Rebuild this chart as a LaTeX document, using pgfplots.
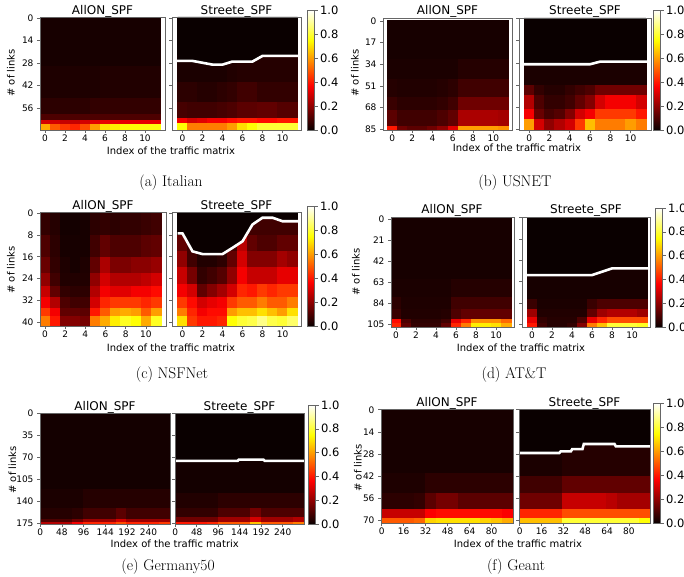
\documentclass[border=0pt]{standalone}
\usepackage{fontspec}
\usepackage{pgfplots}
\pgfplotsset{compat=1.18}
\newfontfamily\dv{DejaVu Sans}
\definecolor{hot0}{RGB}{10,0,0}
\newcommand{\tfont}{\dv\fontsize{12}{12}\selectfont}
\newcommand{\lfont}{\dv\fontsize{10}{12}\selectfont}
\newcommand{\cfont}{\fontsize{15.5}{18}\selectfont}
\pgfplotsset{
  /pgf/number format/assume math mode=true,
  colormap={mhot}{rgb255(0pt)=(10,0,0) rgb255(365pt)=(255,0,0) rgb255(746pt)=(255,255,0) rgb255(1000pt)=(255,255,255)},
  hm/.style={scale only axis, anchor=north west, y dir=reverse, axis on top,
    axis line style={black!60, line width=0.7pt},
    tick style={black!60, line width=0.6pt},
    major tick length=3pt, tick align=outside,
    xtick pos=left, ytick pos=left,
    colormap name=mhot, point meta min=0, point meta max=1,
    tick label style={font=\dv\fontsize{9}{10}\selectfont},
    xticklabel style={yshift=2pt}},
  hmap/.style={surf, shader=flat corner, mesh/cols=13, point meta=explicit},
  wline/.style={white, line width=2.6pt},
  bfill/.style={fill=hot0, draw=none},
  cb/.style n args={3}{colorbar right, colorbar style={at={(parent axis.north east)}, anchor=north west,
    xshift=#1, yshift=#2, width=7pt, height=#3, scale only axis,
    axis line style={black!60, line width=0.7pt}, tick style={black!60, line width=0.6pt},
    major tick length=3pt, tick align=outside, ytick pos=right, yticklabel pos=right,
    ytick={0,0.2,0.4,0.6,0.8,1.0},
    yticklabel style={font=\dv\fontsize{11.5}{12}\selectfont, xshift=-1pt, /pgf/number format/.cd, fixed, fixed zerofill, precision=1}}},
}
\begin{document}
\begin{tikzpicture}
\path[use as bounding box] (0,0) rectangle (684pt,-577pt);
% ================= (a) Italian =================
\begin{axis}[hm, at={(40pt,-17pt)}, width=125pt, height=113pt, xmin=-0.5, xmax=12, ymin=-0.5, ymax=69.5, xtick={0,2,...,10}, ytick={0,14,...,56}]
\addplot[hmap] coordinates {
(-0.5,-0.5)[.02] (0.5,-0.5)[.02] (1.5,-0.5)[.02] (2.5,-0.5)[.02] (3.5,-0.5)[.02] (4.5,-0.5)[.02] (5.5,-0.5)[.02] (6.5,-0.5)[.02] (7.5,-0.5)[.02] (8.5,-0.5)[.02] (9.5,-0.5)[.02] (10.5,-0.5)[.02] (11.5,-0.5)[0]
(-0.5,30)[.03] (0.5,30)[.03] (1.5,30)[.03] (2.5,30)[.03] (3.5,30)[.03] (4.5,30)[.03] (5.5,30)[.035] (6.5,30)[.035] (7.5,30)[.035] (8.5,30)[.035] (9.5,30)[.035] (10.5,30)[.035] (11.5,30)[0]
(-0.5,50)[.05] (0.5,50)[.05] (1.5,50)[.05] (2.5,50)[.05] (3.5,50)[.05] (4.5,50)[.06] (5.5,50)[.06] (6.5,50)[.06] (7.5,50)[.06] (8.5,50)[.06] (9.5,50)[.06] (10.5,50)[.06] (11.5,50)[0]
(-0.5,60)[.1] (0.5,60)[.1] (1.5,60)[.1] (2.5,60)[.1] (3.5,60)[.1] (4.5,60)[.1] (5.5,60)[.1] (6.5,60)[.1] (7.5,60)[.1] (8.5,60)[.1] (9.5,60)[.1] (10.5,60)[.1] (11.5,60)[0]
(-0.5,63.3)[.3] (0.5,63.3)[.3] (1.5,63.3)[.28] (2.5,63.3)[.28] (3.5,63.3)[.3] (4.5,63.3)[.32] (5.5,63.3)[.33] (6.5,63.3)[.33] (7.5,63.3)[.33] (8.5,63.3)[.33] (9.5,63.3)[.33] (10.5,63.3)[.33] (11.5,63.3)[0]
(-0.5,66)[.62] (0.5,66)[.5] (1.5,66)[.45] (2.5,66)[.42] (3.5,66)[.48] (4.5,66)[.6] (5.5,66)[.7] (6.5,66)[.72] (7.5,66)[.75] (8.5,66)[.75] (9.5,66)[.76] (10.5,66)[.76] (11.5,66)[0]
(-0.5,69.5)[0] (0.5,69.5)[0] (1.5,69.5)[0] (2.5,69.5)[0] (3.5,69.5)[0] (4.5,69.5)[0] (5.5,69.5)[0] (6.5,69.5)[0] (7.5,69.5)[0] (8.5,69.5)[0] (9.5,69.5)[0] (10.5,69.5)[0] (11.5,69.5)[0]
};
\end{axis}
\begin{axis}[hm, at={(172pt,-17pt)}, width=129pt, height=113pt, xmin=-1.05, xmax=11.85, ymin=-0.5, ymax=69.5, xtick={0,2,...,10}, ytick={0,14,...,56}, yticklabels={}, cb={-2pt}{7pt}{120pt}]
\addplot[hmap] coordinates {
(-0.5,-0.5)[0] (0.5,-0.5)[0] (1.5,-0.5)[0] (2.5,-0.5)[0] (3.5,-0.5)[0] (4.5,-0.5)[0] (5.5,-0.5)[0] (6.5,-0.5)[0] (7.5,-0.5)[0] (8.5,-0.5)[0] (9.5,-0.5)[0] (10.5,-0.5)[0] (11.5,-0.5)[0]
(-0.5,23)[.025] (0.5,23)[.025] (1.5,23)[.025] (2.5,23)[.025] (3.5,23)[.025] (4.5,23)[.035] (5.5,23)[.04] (6.5,23)[.04] (7.5,23)[.04] (8.5,23)[.04] (9.5,23)[.04] (10.5,23)[.04] (11.5,23)[0]
(-0.5,40)[.05] (0.5,40)[.05] (1.5,40)[.04] (2.5,40)[.04] (3.5,40)[.05] (4.5,40)[.06] (5.5,40)[.08] (6.5,40)[.08] (7.5,40)[.06] (8.5,40)[.06] (9.5,40)[.06] (10.5,40)[.06] (11.5,40)[0]
(-0.5,52)[.09] (0.5,52)[.08] (1.5,52)[.08] (2.5,52)[.08] (3.5,52)[.09] (4.5,52)[.1] (5.5,52)[.12] (6.5,52)[.12] (7.5,52)[.13] (8.5,52)[.13] (9.5,52)[.11] (10.5,52)[.11] (11.5,52)[0]
(-0.5,62)[.35] (0.5,62)[.3] (1.5,62)[.32] (2.5,62)[.35] (3.5,62)[.35] (4.5,62)[.38] (5.5,62)[.4] (6.5,62)[.4] (7.5,62)[.38] (8.5,62)[.38] (9.5,62)[.4] (10.5,62)[.4] (11.5,62)[0]
(-0.5,65.5)[.75] (0.5,65.5)[.55] (1.5,65.5)[.55] (2.5,65.5)[.55] (3.5,65.5)[.55] (4.5,65.5)[.6] (5.5,65.5)[.7] (6.5,65.5)[.75] (7.5,65.5)[.8] (8.5,65.5)[.8] (9.5,65.5)[.8] (10.5,65.5)[.8] (11.5,65.5)[0]
(-0.5,69.5)[0] (0.5,69.5)[0] (1.5,69.5)[0] (2.5,69.5)[0] (3.5,69.5)[0] (4.5,69.5)[0] (5.5,69.5)[0] (6.5,69.5)[0] (7.5,69.5)[0] (8.5,69.5)[0] (9.5,69.5)[0] (10.5,69.5)[0] (11.5,69.5)[0]
};
\addplot[bfill] coordinates {(-0.5,-0.5) (-0.5,26.7) (1,26.7) (3,29) (4,29) (5,27.1) (7,27.1) (8,23.6) (11.5,23.6) (11.5,-0.5)};
\addplot[wline] coordinates {(-1.05,26.7) (1,26.7) (3,29) (4,29) (5,27.1) (7,27.1) (8,23.6) (11.85,23.6)};
\end{axis}
% ================= (b) USNET =================
\begin{axis}[hm, at={(383pt,-18pt)}, width=129pt, height=112pt, xmin=-0.9, xmax=11.85, ymin=-2.3, ymax=85.5, xtick={0,2,...,10}, ytick={0,17,...,85}]
\addplot[hmap] coordinates {
(-0.5,-0.5)[.02] (0.5,-0.5)[.02] (1.5,-0.5)[.02] (2.5,-0.5)[.02] (3.5,-0.5)[.02] (4.5,-0.5)[.02] (5.5,-0.5)[.02] (6.5,-0.5)[.02] (7.5,-0.5)[.02] (8.5,-0.5)[.02] (9.5,-0.5)[.02] (10.5,-0.5)[.02] (11.5,-0.5)[0]
(-0.5,30)[.025] (0.5,30)[.025] (1.5,30)[.025] (2.5,30)[.025] (3.5,30)[.025] (4.5,30)[.025] (5.5,30)[.025] (6.5,30)[.04] (7.5,30)[.04] (8.5,30)[.04] (9.5,30)[.04] (10.5,30)[.04] (11.5,30)[0]
(-0.5,46)[.04] (0.5,46)[.035] (1.5,46)[.035] (2.5,46)[.035] (3.5,46)[.035] (4.5,46)[.04] (5.5,46)[.05] (6.5,46)[.08] (7.5,46)[.08] (8.5,46)[.08] (9.5,46)[.08] (10.5,46)[.08] (11.5,46)[0]
(-0.5,60)[.07] (0.5,60)[.05] (1.5,60)[.05] (2.5,60)[.05] (3.5,60)[.05] (4.5,60)[.06] (5.5,60)[.08] (6.5,60)[.15] (7.5,60)[.15] (8.5,60)[.15] (9.5,60)[.15] (10.5,60)[.15] (11.5,60)[0]
(-0.5,70)[.12] (0.5,70)[.08] (1.5,70)[.08] (2.5,70)[.08] (3.5,70)[.08] (4.5,70)[.1] (5.5,70)[.13] (6.5,70)[.24] (7.5,70)[.24] (8.5,70)[.24] (9.5,70)[.24] (10.5,70)[.23] (11.5,70)[0]
(-0.5,82.5)[.4] (0.5,82.5)[.15] (1.5,82.5)[.12] (2.5,82.5)[.12] (3.5,82.5)[.15] (4.5,82.5)[.2] (5.5,82.5)[.32] (6.5,82.5)[.6] (7.5,82.5)[.6] (8.5,82.5)[.6] (9.5,82.5)[.6] (10.5,82.5)[.58] (11.5,82.5)[0]
(-0.5,85.5)[0] (0.5,85.5)[0] (1.5,85.5)[0] (2.5,85.5)[0] (3.5,85.5)[0] (4.5,85.5)[0] (5.5,85.5)[0] (6.5,85.5)[0] (7.5,85.5)[0] (8.5,85.5)[0] (9.5,85.5)[0] (10.5,85.5)[0] (11.5,85.5)[0]
};
\end{axis}
\begin{axis}[hm, at={(519pt,-18pt)}, width=132pt, height=112pt, xmin=-1, xmax=12, ymin=-0.5, ymax=85.5, xtick={0,2,...,10}, ytick={0,17,...,85}, yticklabels={}, cb={-6pt}{8pt}{120pt}]
\addplot[hmap] coordinates {
(-0.5,-0.5)[0] (0.5,-0.5)[0] (1.5,-0.5)[0] (2.5,-0.5)[0] (3.5,-0.5)[0] (4.5,-0.5)[0] (5.5,-0.5)[0] (6.5,-0.5)[0] (7.5,-0.5)[0] (8.5,-0.5)[0] (9.5,-0.5)[0] (10.5,-0.5)[0] (11.5,-0.5)[0]
(-0.5,33)[.025] (0.5,33)[.025] (1.5,33)[.025] (2.5,33)[.025] (3.5,33)[.025] (4.5,33)[.025] (5.5,33)[.025] (6.5,33)[.025] (7.5,33)[.025] (8.5,33)[.025] (9.5,33)[.025] (10.5,33)[.025] (11.5,33)[0]
(-0.5,50.8)[.12] (0.5,50.8)[.06] (1.5,50.8)[.04] (2.5,50.8)[.04] (3.5,50.8)[.06] (4.5,50.8)[.08] (5.5,50.8)[.1] (6.5,50.8)[.15] (7.5,50.8)[.15] (8.5,50.8)[.15] (9.5,50.8)[.15] (10.5,50.8)[.15] (11.5,50.8)[0]
(-0.5,58.7)[.25] (0.5,58.7)[.1] (1.5,58.7)[.06] (2.5,58.7)[.06] (3.5,58.7)[.08] (4.5,58.7)[.13] (5.5,58.7)[.18] (6.5,58.7)[.3] (7.5,58.7)[.35] (8.5,58.7)[.35] (9.5,58.7)[.35] (10.5,58.7)[.3] (11.5,58.7)[0]
(-0.5,69.3)[.35] (0.5,69.3)[.14] (1.5,69.3)[.09] (2.5,69.3)[.11] (3.5,69.3)[.18] (4.5,69.3)[.3] (5.5,69.3)[.35] (6.5,69.3)[.45] (7.5,69.3)[.45] (8.5,69.3)[.45] (9.5,69.3)[.45] (10.5,69.3)[.4] (11.5,69.3)[0]
(-0.5,77.2)[.6] (0.5,77.2)[.3] (1.5,77.2)[.2] (2.5,77.2)[.25] (3.5,77.2)[.3] (4.5,77.2)[.45] (5.5,77.2)[.65] (6.5,77.2)[.55] (7.5,77.2)[.55] (8.5,77.2)[.55] (9.5,77.2)[.6] (10.5,77.2)[.55] (11.5,77.2)[0]
(-0.5,85.5)[0] (0.5,85.5)[0] (1.5,85.5)[0] (2.5,85.5)[0] (3.5,85.5)[0] (4.5,85.5)[0] (5.5,85.5)[0] (6.5,85.5)[0] (7.5,85.5)[0] (8.5,85.5)[0] (9.5,85.5)[0] (10.5,85.5)[0] (11.5,85.5)[0]
};
\addplot[bfill] coordinates {(-0.5,-0.5) (-0.5,35) (6,35) (7,33) (11.5,33) (11.5,-0.5)};
\addplot[wline] coordinates {(-1,35) (6,35) (7,33) (12,33)};
\end{axis}
% ================= (c) NSFNet =================
\begin{axis}[hm, at={(40pt,-212pt)}, width=126pt, height=114pt, xmin=-0.5, xmax=12, ymin=-0.5, ymax=41.5, xtick={0,2,...,10}, ytick={0,8,...,40}]
\addplot[hmap] coordinates {
(-0.5,-0.5)[.06] (0.5,-0.5)[.04] (1.5,-0.5)[.015] (2.5,-0.5)[.015] (3.5,-0.5)[.02] (4.5,-0.5)[.05] (5.5,-0.5)[.06] (6.5,-0.5)[.05] (7.5,-0.5)[.06] (8.5,-0.5)[.06] (9.5,-0.5)[.07] (10.5,-0.5)[.08] (11.5,-0.5)[0]
(-0.5,8)[.1] (0.5,8)[.05] (1.5,8)[.02] (2.5,8)[.02] (3.5,8)[.02] (4.5,8)[.08] (5.5,8)[.13] (6.5,8)[.1] (7.5,8)[.1] (8.5,8)[.1] (9.5,8)[.12] (10.5,8)[.13] (11.5,8)[0]
(-0.5,16)[.14] (0.5,16)[.06] (1.5,16)[.03] (2.5,16)[.02] (3.5,16)[.03] (4.5,16)[.13] (5.5,16)[.24] (6.5,16)[.17] (7.5,16)[.17] (8.5,16)[.19] (9.5,16)[.19] (10.5,16)[.21] (11.5,16)[0]
(-0.5,22)[.2] (0.5,22)[.08] (1.5,22)[.035] (2.5,22)[.035] (3.5,22)[.035] (4.5,22)[.2] (5.5,22)[.3] (6.5,22)[.25] (7.5,22)[.25] (8.5,22)[.25] (9.5,22)[.27] (10.5,22)[.3] (11.5,22)[0]
(-0.5,27)[.28] (0.5,27)[.13] (1.5,27)[.06] (2.5,27)[.05] (3.5,27)[.05] (4.5,27)[.25] (5.5,27)[.35] (6.5,27)[.32] (7.5,27)[.32] (8.5,27)[.35] (9.5,27)[.35] (10.5,27)[.38] (11.5,27)[0]
(-0.5,31)[.35] (0.5,31)[.25] (1.5,31)[.1] (2.5,31)[.08] (3.5,31)[.08] (4.5,31)[.3] (5.5,31)[.42] (6.5,31)[.45] (7.5,31)[.45] (8.5,31)[.45] (9.5,31)[.42] (10.5,31)[.45] (11.5,31)[0]
(-0.5,35)[.45] (0.5,35)[.35] (1.5,35)[.13] (2.5,35)[.13] (3.5,35)[.12] (4.5,35)[.4] (5.5,35)[.5] (6.5,35)[.6] (7.5,35)[.62] (8.5,35)[.6] (9.5,35)[.5] (10.5,35)[.6] (11.5,35)[0]
(-0.5,38)[.55] (0.5,38)[.4] (1.5,38)[.18] (2.5,38)[.18] (3.5,38)[.16] (4.5,38)[.55] (5.5,38)[.62] (6.5,38)[.72] (7.5,38)[.78] (8.5,38)[.75] (9.5,38)[.62] (10.5,38)[.78] (11.5,38)[0]
(-0.5,41.5)[0] (0.5,41.5)[0] (1.5,41.5)[0] (2.5,41.5)[0] (3.5,41.5)[0] (4.5,41.5)[0] (5.5,41.5)[0] (6.5,41.5)[0] (7.5,41.5)[0] (8.5,41.5)[0] (9.5,41.5)[0] (10.5,41.5)[0] (11.5,41.5)[0]
};
\end{axis}
\begin{axis}[hm, at={(172pt,-212pt)}, width=129pt, height=114pt, xmin=-1.05, xmax=11.85, ymin=-0.5, ymax=41.5, xtick={0,2,...,10}, ytick={0,8,...,40}, yticklabels={}, cb={-2pt}{6pt}{120pt}]
\addplot[hmap] coordinates {
(-0.5,-0.5)[0] (0.5,-0.5)[0] (1.5,-0.5)[0] (2.5,-0.5)[0] (3.5,-0.5)[0] (4.5,-0.5)[0] (5.5,-0.5)[0] (6.5,-0.5)[0] (7.5,-0.5)[0] (8.5,-0.5)[0] (9.5,-0.5)[0] (10.5,-0.5)[0] (11.5,-0.5)[0]
(-0.5,2)[0] (0.5,2)[0] (1.5,2)[0] (2.5,2)[0] (3.5,2)[0] (4.5,2)[0] (5.5,2)[0] (6.5,2)[.08] (7.5,2)[.08] (8.5,2)[.08] (9.5,2)[.08] (10.5,2)[.08] (11.5,2)[0]
(-0.5,8)[.13] (0.5,8)[.08] (1.5,8)[0] (2.5,8)[0] (3.5,8)[0] (4.5,8)[.08] (5.5,8)[.26] (6.5,8)[.13] (7.5,8)[.1] (8.5,8)[.1] (9.5,8)[.13] (10.5,8)[.13] (11.5,8)[0]
(-0.5,14)[.2] (0.5,14)[.08] (1.5,14)[.035] (2.5,14)[.035] (3.5,14)[.05] (4.5,14)[.13] (5.5,14)[.3] (6.5,14)[.18] (7.5,14)[.18] (8.5,14)[.18] (9.5,14)[.23] (10.5,14)[.2] (11.5,14)[0]
(-0.5,20)[.28] (0.5,20)[.16] (1.5,20)[.06] (2.5,20)[.08] (3.5,20)[.11] (4.5,20)[.2] (5.5,20)[.35] (6.5,20)[.28] (7.5,20)[.28] (8.5,20)[.28] (9.5,20)[.33] (10.5,20)[.33] (11.5,20)[0]
(-0.5,26)[.35] (0.5,26)[.3] (1.5,26)[.13] (2.5,26)[.18] (3.5,26)[.23] (4.5,26)[.3] (5.5,26)[.42] (6.5,26)[.4] (7.5,26)[.45] (8.5,26)[.42] (9.5,26)[.45] (10.5,26)[.45] (11.5,26)[0]
(-0.5,31)[.45] (0.5,31)[.38] (1.5,31)[.3] (2.5,31)[.33] (3.5,31)[.35] (4.5,31)[.45] (5.5,31)[.5] (6.5,31)[.5] (7.5,31)[.55] (8.5,31)[.5] (9.5,31)[.5] (10.5,31)[.55] (11.5,31)[0]
(-0.5,35)[.55] (0.5,35)[.42] (1.5,35)[.35] (2.5,35)[.38] (3.5,35)[.38] (4.5,35)[.6] (5.5,35)[.65] (6.5,35)[.65] (7.5,35)[.7] (8.5,35)[.65] (9.5,35)[.6] (10.5,35)[.7] (11.5,35)[0]
(-0.5,38)[.7] (0.5,38)[.45] (1.5,38)[.4] (2.5,38)[.4] (3.5,38)[.42] (4.5,38)[.75] (5.5,38)[.8] (6.5,38)[.82] (7.5,38)[.88] (8.5,38)[.82] (9.5,38)[.8] (10.5,38)[.85] (11.5,38)[0]
(-0.5,41.5)[0] (0.5,41.5)[0] (1.5,41.5)[0] (2.5,41.5)[0] (3.5,41.5)[0] (4.5,41.5)[0] (5.5,41.5)[0] (6.5,41.5)[0] (7.5,41.5)[0] (8.5,41.5)[0] (9.5,41.5)[0] (10.5,41.5)[0] (11.5,41.5)[0]
};
\addplot[bfill] coordinates {(-0.5,-0.5) (-0.5,7.4) (0,7.4) (1,14) (2,15) (4,15) (5,12.7) (6,10.3) (7,4.1) (8,1.6) (9,1.6) (10,2.9) (11.5,2.9) (11.5,-0.5)};
\addplot[wline] coordinates {(-0.5,7.4) (0,7.4) (1,14) (2,15) (4,15) (5,12.7) (6,10.3) (7,4.1) (8,1.6) (9,1.6) (10,2.9) (11.85,2.9)};
\end{axis}
% ================= (d) AT&T =================
\begin{axis}[hm, at={(391pt,-217pt)}, width=123pt, height=110pt, xmin=-0.5, xmax=11.8, ymin=-2, ymax=107.5, xtick={0,2,...,10}, ytick={0,21,...,105}]
\addplot[hmap] coordinates {
(-0.5,-0.5)[.02] (0.5,-0.5)[.02] (1.5,-0.5)[.02] (2.5,-0.5)[.02] (3.5,-0.5)[.02] (4.5,-0.5)[.02] (5.5,-0.5)[.02] (6.5,-0.5)[.02] (7.5,-0.5)[.02] (8.5,-0.5)[.02] (9.5,-0.5)[.02] (10.5,-0.5)[.02] (11.5,-0.5)[0]
(-0.5,60)[.025] (0.5,60)[.025] (1.5,60)[.025] (2.5,60)[.025] (3.5,60)[.025] (4.5,60)[.025] (5.5,60)[.04] (6.5,60)[.04] (7.5,60)[.04] (8.5,60)[.04] (9.5,60)[.04] (10.5,60)[.04] (11.5,60)[0]
(-0.5,78)[.05] (0.5,78)[.03] (1.5,78)[.03] (2.5,78)[.03] (3.5,78)[.03] (4.5,78)[.03] (5.5,78)[.08] (6.5,78)[.08] (7.5,78)[.08] (8.5,78)[.08] (9.5,78)[.08] (10.5,78)[.08] (11.5,78)[0]
(-0.5,90)[.07] (0.5,90)[.035] (1.5,90)[.035] (2.5,90)[.035] (3.5,90)[.035] (4.5,90)[.04] (5.5,90)[.1] (6.5,90)[.13] (7.5,90)[.13] (8.5,90)[.13] (9.5,90)[.13] (10.5,90)[.13] (11.5,90)[0]
(-0.5,99.4)[.38] (0.5,99.4)[.1] (1.5,99.4)[.05] (2.5,99.4)[.05] (3.5,99.4)[.05] (4.5,99.4)[.08] (5.5,99.4)[.33] (6.5,99.4)[.42] (7.5,99.4)[.58] (8.5,99.4)[.58] (9.5,99.4)[.58] (10.5,99.4)[.52] (11.5,99.4)[0]
(-0.5,103.5)[.42] (0.5,103.5)[.13] (1.5,103.5)[.06] (2.5,103.5)[.06] (3.5,103.5)[.06] (4.5,103.5)[.13] (5.5,103.5)[.42] (6.5,103.5)[.55] (7.5,103.5)[.72] (8.5,103.5)[.72] (9.5,103.5)[.7] (10.5,103.5)[.62] (11.5,103.5)[0]
(-0.5,107.5)[0] (0.5,107.5)[0] (1.5,107.5)[0] (2.5,107.5)[0] (3.5,107.5)[0] (4.5,107.5)[0] (5.5,107.5)[0] (6.5,107.5)[0] (7.5,107.5)[0] (8.5,107.5)[0] (9.5,107.5)[0] (10.5,107.5)[0] (11.5,107.5)[0]
};
\end{axis}
\begin{axis}[hm, at={(522pt,-217pt)}, width=128pt, height=110pt, xmin=-1, xmax=11.8, ymin=-0.5, ymax=107.5, xtick={0,2,...,10}, ytick={0,21,...,105}, yticklabels={}, cb={-3pt}{9pt}{119pt}]
\addplot[hmap] coordinates {
(-0.5,-0.5)[0] (0.5,-0.5)[0] (1.5,-0.5)[0] (2.5,-0.5)[0] (3.5,-0.5)[0] (4.5,-0.5)[0] (5.5,-0.5)[0] (6.5,-0.5)[0] (7.5,-0.5)[0] (8.5,-0.5)[0] (9.5,-0.5)[0] (10.5,-0.5)[0] (11.5,-0.5)[0]
(-0.5,50)[.02] (0.5,50)[.02] (1.5,50)[.02] (2.5,50)[.02] (3.5,50)[.02] (4.5,50)[.02] (5.5,50)[.02] (6.5,50)[.02] (7.5,50)[.02] (8.5,50)[.02] (9.5,50)[.02] (10.5,50)[.02] (11.5,50)[0]
(-0.5,80)[.07] (0.5,80)[.025] (1.5,80)[.025] (2.5,80)[.025] (3.5,80)[.025] (4.5,80)[.025] (5.5,80)[.07] (6.5,80)[.1] (7.5,80)[.1] (8.5,80)[.1] (9.5,80)[.1] (10.5,80)[.1] (11.5,80)[0]
(-0.5,90)[.22] (0.5,90)[.035] (1.5,90)[.035] (2.5,90)[.035] (3.5,90)[.035] (4.5,90)[.035] (5.5,90)[.13] (6.5,90)[.22] (7.5,90)[.25] (8.5,90)[.25] (9.5,90)[.25] (10.5,90)[.22] (11.5,90)[0]
(-0.5,98)[.33] (0.5,98)[.06] (1.5,98)[.04] (2.5,98)[.04] (3.5,98)[.04] (4.5,98)[.1] (5.5,98)[.33] (6.5,98)[.42] (7.5,98)[.48] (8.5,98)[.48] (9.5,98)[.48] (10.5,98)[.48] (11.5,98)[0]
(-0.5,104)[.4] (0.5,104)[.08] (1.5,104)[.04] (2.5,104)[.04] (3.5,104)[.06] (4.5,104)[.18] (5.5,104)[.55] (6.5,104)[.65] (7.5,104)[.8] (8.5,104)[.8] (9.5,104)[.8] (10.5,104)[.78] (11.5,104)[0]
(-0.5,107.5)[0] (0.5,107.5)[0] (1.5,107.5)[0] (2.5,107.5)[0] (3.5,107.5)[0] (4.5,107.5)[0] (5.5,107.5)[0] (6.5,107.5)[0] (7.5,107.5)[0] (8.5,107.5)[0] (9.5,107.5)[0] (10.5,107.5)[0] (11.5,107.5)[0]
};
\addplot[bfill] coordinates {(-0.5,-0.5) (-0.5,56.5) (6,56.5) (8,50) (11.5,50) (11.5,-0.5)};
\addplot[wline] coordinates {(-1,56.5) (6,56.5) (8,50) (11.8,50)};
\end{axis}
% ================= (e) Germany50 =================
\begin{axis}[hm, at={(40pt,-413pt)}, width=130pt, height=111pt, xmin=-0.5, xmax=287.5, ymin=-0.5, ymax=175.5, xtick={0,48,...,240}, ytick={0,35,...,175}]
\addplot[hmap] coordinates {
(-0.5,-0.5)[.015] (23.5,-0.5)[.015] (47.5,-0.5)[.015] (71.5,-0.5)[.015] (95.5,-0.5)[.015] (119.5,-0.5)[.015] (143.5,-0.5)[.015] (167.5,-0.5)[.015] (191.5,-0.5)[.015] (215.5,-0.5)[.015] (239.5,-0.5)[.015] (263.5,-0.5)[.015] (287.5,-0.5)[0]
(-0.5,120)[.025] (23.5,120)[.025] (47.5,120)[.025] (71.5,120)[.025] (95.5,120)[.04] (119.5,120)[.04] (143.5,120)[.04] (167.5,120)[.04] (191.5,120)[.04] (215.5,120)[.04] (239.5,120)[.04] (263.5,120)[.04] (287.5,120)[0]
(-0.5,150)[.04] (23.5,150)[.04] (47.5,150)[.04] (71.5,150)[.05] (95.5,150)[.08] (119.5,150)[.08] (143.5,150)[.08] (167.5,150)[.12] (191.5,150)[.08] (215.5,150)[.08] (239.5,150)[.08] (263.5,150)[.08] (287.5,150)[0]
(-0.5,168)[.1] (23.5,168)[.1] (47.5,168)[.1] (71.5,168)[.15] (95.5,168)[.22] (119.5,168)[.22] (143.5,168)[.22] (167.5,168)[.3] (191.5,168)[.22] (215.5,168)[.22] (239.5,168)[.22] (263.5,168)[.22] (287.5,168)[0]
(-0.5,172.5)[.25] (23.5,172.5)[.25] (47.5,172.5)[.25] (71.5,172.5)[.35] (95.5,172.5)[.42] (119.5,172.5)[.42] (143.5,172.5)[.42] (167.5,172.5)[.48] (191.5,172.5)[.42] (215.5,172.5)[.42] (239.5,172.5)[.42] (263.5,172.5)[.45] (287.5,172.5)[0]
(-0.5,175.5)[0] (23.5,175.5)[0] (47.5,175.5)[0] (71.5,175.5)[0] (95.5,175.5)[0] (119.5,175.5)[0] (143.5,175.5)[0] (167.5,175.5)[0] (191.5,175.5)[0] (215.5,175.5)[0] (239.5,175.5)[0] (263.5,175.5)[0] (287.5,175.5)[0]
};
\end{axis}
\begin{axis}[hm, at={(175pt,-413pt)}, width=129pt, height=111pt, xmin=-0.5, xmax=287.5, ymin=-0.5, ymax=175.5, xtick={0,48,...,240}, ytick={0,35,...,175}, yticklabels={}, cb={-4pt}{8pt}{119pt}]
\addplot[hmap] coordinates {
(-0.5,-0.5)[0] (23.5,-0.5)[0] (47.5,-0.5)[0] (71.5,-0.5)[0] (95.5,-0.5)[0] (119.5,-0.5)[0] (143.5,-0.5)[0] (167.5,-0.5)[0] (191.5,-0.5)[0] (215.5,-0.5)[0] (239.5,-0.5)[0] (263.5,-0.5)[0] (287.5,-0.5)[0]
(-0.5,75)[.015] (23.5,75)[.015] (47.5,75)[.015] (71.5,75)[.015] (95.5,75)[.015] (119.5,75)[.015] (143.5,75)[.015] (167.5,75)[.015] (191.5,75)[.015] (215.5,75)[.015] (239.5,75)[.015] (263.5,75)[.015] (287.5,75)[0]
(-0.5,127)[.035] (23.5,127)[.035] (47.5,127)[.035] (71.5,127)[.035] (95.5,127)[.05] (119.5,127)[.05] (143.5,127)[.05] (167.5,127)[.05] (191.5,127)[.05] (215.5,127)[.05] (239.5,127)[.05] (263.5,127)[.05] (287.5,127)[0]
(-0.5,150)[.06] (23.5,150)[.06] (47.5,150)[.06] (71.5,150)[.06] (95.5,150)[.1] (119.5,150)[.1] (143.5,150)[.1] (167.5,150)[.16] (191.5,150)[.1] (215.5,150)[.1] (239.5,150)[.1] (263.5,150)[.1] (287.5,150)[0]
(-0.5,165)[.15] (23.5,165)[.15] (47.5,165)[.15] (71.5,165)[.15] (95.5,165)[.22] (119.5,165)[.22] (143.5,165)[.22] (167.5,165)[.3] (191.5,165)[.22] (215.5,165)[.22] (239.5,165)[.22] (263.5,165)[.25] (287.5,165)[0]
(-0.5,172)[.4] (23.5,172)[.4] (47.5,172)[.4] (71.5,172)[.42] (95.5,172)[.5] (119.5,172)[.5] (143.5,172)[.5] (167.5,172)[.65] (191.5,172)[.5] (215.5,172)[.5] (239.5,172)[.5] (263.5,172)[.55] (287.5,172)[0]
(-0.5,175.5)[0] (23.5,175.5)[0] (47.5,175.5)[0] (71.5,175.5)[0] (95.5,175.5)[0] (119.5,175.5)[0] (143.5,175.5)[0] (167.5,175.5)[0] (191.5,175.5)[0] (215.5,175.5)[0] (239.5,175.5)[0] (263.5,175.5)[0] (287.5,175.5)[0]
};
\addplot[bfill] coordinates {(-0.5,-0.5) (-0.5,75.5) (139,75.5) (142,73.5) (197,73.5) (200,75.5) (287.5,75.5) (287.5,-0.5)};
\addplot[wline] coordinates {(-0.5,75.5) (139,75.5) (142,73.5) (197,73.5) (200,75.5) (287.5,75.5)};
\end{axis}
% ================= (f) Geant =================
\begin{axis}[hm, at={(381pt,-409pt)}, width=132pt, height=114pt, xmin=-0.5, xmax=95.5, ymin=-0.5, ymax=71.5, xtick={0,16,...,80}, ytick={0,14,...,70}]
\addplot[hmap] coordinates {
(-0.5,-0.5)[.02] (7.5,-0.5)[.02] (15.5,-0.5)[.02] (23.5,-0.5)[.02] (31.5,-0.5)[.02] (39.5,-0.5)[.02] (47.5,-0.5)[.02] (55.5,-0.5)[.02] (63.5,-0.5)[.02] (71.5,-0.5)[.02] (79.5,-0.5)[.02] (87.5,-0.5)[.02] (95.5,-0.5)[0]
(-0.5,40)[.03] (7.5,40)[.03] (15.5,40)[.03] (23.5,40)[.03] (31.5,40)[.05] (39.5,40)[.05] (47.5,40)[.05] (55.5,40)[.05] (63.5,40)[.05] (71.5,40)[.05] (79.5,40)[.05] (87.5,40)[.05] (95.5,40)[0]
(-0.5,52.6)[.05] (7.5,52.6)[.05] (15.5,52.6)[.05] (23.5,52.6)[.06] (31.5,52.6)[.12] (39.5,52.6)[.16] (47.5,52.6)[.16] (55.5,52.6)[.12] (63.5,52.6)[.12] (71.5,52.6)[.12] (79.5,52.6)[.12] (87.5,52.6)[.12] (95.5,52.6)[0]
(-0.5,63)[.28] (7.5,63)[.28] (15.5,63)[.28] (23.5,63)[.28] (31.5,63)[.36] (39.5,63)[.38] (47.5,63)[.38] (55.5,63)[.38] (63.5,63)[.38] (71.5,63)[.38] (79.5,63)[.38] (87.5,63)[.36] (95.5,63)[0]
(-0.5,68.5)[.5] (7.5,68.5)[.5] (15.5,68.5)[.5] (23.5,68.5)[.52] (31.5,68.5)[.68] (39.5,68.5)[.7] (47.5,68.5)[.7] (55.5,68.5)[.7] (63.5,68.5)[.7] (71.5,68.5)[.68] (79.5,68.5)[.66] (87.5,68.5)[.62] (95.5,68.5)[0]
(-0.5,71.5)[0] (7.5,71.5)[0] (15.5,71.5)[0] (23.5,71.5)[0] (31.5,71.5)[0] (39.5,71.5)[0] (47.5,71.5)[0] (55.5,71.5)[0] (63.5,71.5)[0] (71.5,71.5)[0] (79.5,71.5)[0] (87.5,71.5)[0] (95.5,71.5)[0]
};
\end{axis}
\begin{axis}[hm, at={(519pt,-409pt)}, width=131pt, height=114pt, xmin=-0.5, xmax=95.5, ymin=-0.5, ymax=71.5, xtick={0,16,...,80}, ytick={0,14,...,70}, yticklabels={}, cb={-5pt}{6pt}{120pt}]
\addplot[hmap] coordinates {
(-0.5,-0.5)[0] (7.5,-0.5)[0] (15.5,-0.5)[0] (23.5,-0.5)[0] (31.5,-0.5)[0] (39.5,-0.5)[0] (47.5,-0.5)[0] (55.5,-0.5)[0] (63.5,-0.5)[0] (71.5,-0.5)[0] (79.5,-0.5)[0] (87.5,-0.5)[0] (95.5,-0.5)[0]
(-0.5,21)[.025] (7.5,21)[.025] (15.5,21)[.025] (23.5,21)[.025] (31.5,21)[.04] (39.5,21)[.04] (47.5,21)[.04] (55.5,21)[.04] (63.5,21)[.04] (71.5,21)[.04] (79.5,21)[.04] (87.5,21)[.04] (95.5,21)[0]
(-0.5,42)[.08] (7.5,42)[.08] (15.5,42)[.08] (23.5,42)[.08] (31.5,42)[.13] (39.5,42)[.13] (47.5,42)[.13] (55.5,42)[.13] (63.5,42)[.13] (71.5,42)[.13] (79.5,42)[.13] (87.5,42)[.13] (95.5,42)[0]
(-0.5,52.6)[.15] (7.5,52.6)[.15] (15.5,52.6)[.15] (23.5,52.6)[.15] (31.5,52.6)[.28] (39.5,52.6)[.28] (47.5,52.6)[.28] (55.5,52.6)[.28] (63.5,52.6)[.26] (71.5,52.6)[.23] (79.5,52.6)[.23] (87.5,52.6)[.23] (95.5,52.6)[0]
(-0.5,63)[.42] (7.5,63)[.42] (15.5,63)[.42] (23.5,63)[.42] (31.5,63)[.48] (39.5,63)[.48] (47.5,63)[.48] (55.5,63)[.48] (63.5,63)[.48] (71.5,63)[.48] (79.5,63)[.48] (87.5,63)[.48] (95.5,63)[0]
(-0.5,68.5)[.65] (7.5,68.5)[.65] (15.5,68.5)[.65] (23.5,68.5)[.65] (31.5,68.5)[.8] (39.5,68.5)[.8] (47.5,68.5)[.8] (55.5,68.5)[.8] (63.5,68.5)[.8] (71.5,68.5)[.8] (79.5,68.5)[.8] (87.5,68.5)[.75] (95.5,68.5)[0]
(-0.5,71.5)[0] (7.5,71.5)[0] (15.5,71.5)[0] (23.5,71.5)[0] (31.5,71.5)[0] (39.5,71.5)[0] (47.5,71.5)[0] (55.5,71.5)[0] (63.5,71.5)[0] (71.5,71.5)[0] (79.5,71.5)[0] (87.5,71.5)[0] (95.5,71.5)[0]
};
\addplot[bfill] coordinates {(-0.5,-0.5) (-0.5,27.3) (29,27.3) (30,26.3) (37.5,26.3) (38.5,24.8) (46,24.8) (47,21.6) (69.5,21.6) (70.5,23.1) (95.5,23.1) (95.5,-0.5)};
\addplot[wline] coordinates {(-0.5,27.3) (29,27.3) (30,26.3) (37.5,26.3) (38.5,24.8) (46,24.8) (47,21.6) (69.5,21.6) (70.5,23.1) (95.5,23.1)};
\end{axis}
% ================= text =================
\foreach \x/\y/\t in {102.5/15/AllON\_SPF, 236.5/15/Streete\_SPF, 447.5/15/AllON\_SPF, 585/15/Streete\_SPF,
  103/210/AllON\_SPF, 236.5/210/Streete\_SPF, 452/213.3/AllON\_SPF, 586/213.3/Streete\_SPF,
  105/410/AllON\_SPF, 239.5/410/Streete\_SPF, 447/406.7/AllON\_SPF, 584.5/406.7/Streete\_SPF}
  {\node[anchor=base, font=\tfont, inner sep=0pt] at (\x pt,-\y pt) {\t};}
\foreach \x/\y in {11/73, 355/73, 11/270, 356/272, 12.5/470, 358/468}
  {\node[rotate=90, font=\lfont, inner sep=0pt] at (\x pt,-\y pt) {\# of links};}
\foreach \x/\y in {171/154.5, 517/151.5, 171/351, 521/351.5, 174.7/547.8, 518/547.8}
  {\node[anchor=base, font=\lfont, inner sep=0pt] at (\x pt,-\y pt) {Index of the traffic matrix};}
\node[anchor=base, font=\cfont, inner sep=0pt] at (171pt,-186pt) {(a) Italian};
\node[anchor=base, font=\cfont, inner sep=0pt] at (515pt,-186pt) {(b) USNET};
\node[anchor=base, font=\cfont, inner sep=0pt] at (172pt,-378pt) {(c) NSFNet};
\node[anchor=base, font=\cfont, inner sep=0pt] at (514pt,-378pt) {(d) AT\&T};
\node[anchor=base, font=\cfont, inner sep=0pt] at (168pt,-570.8pt) {(e) Germany50};
\node[anchor=base, font=\cfont, inner sep=0pt] at (516pt,-570.8pt) {(f) Geant};
\end{tikzpicture}
\end{document}
